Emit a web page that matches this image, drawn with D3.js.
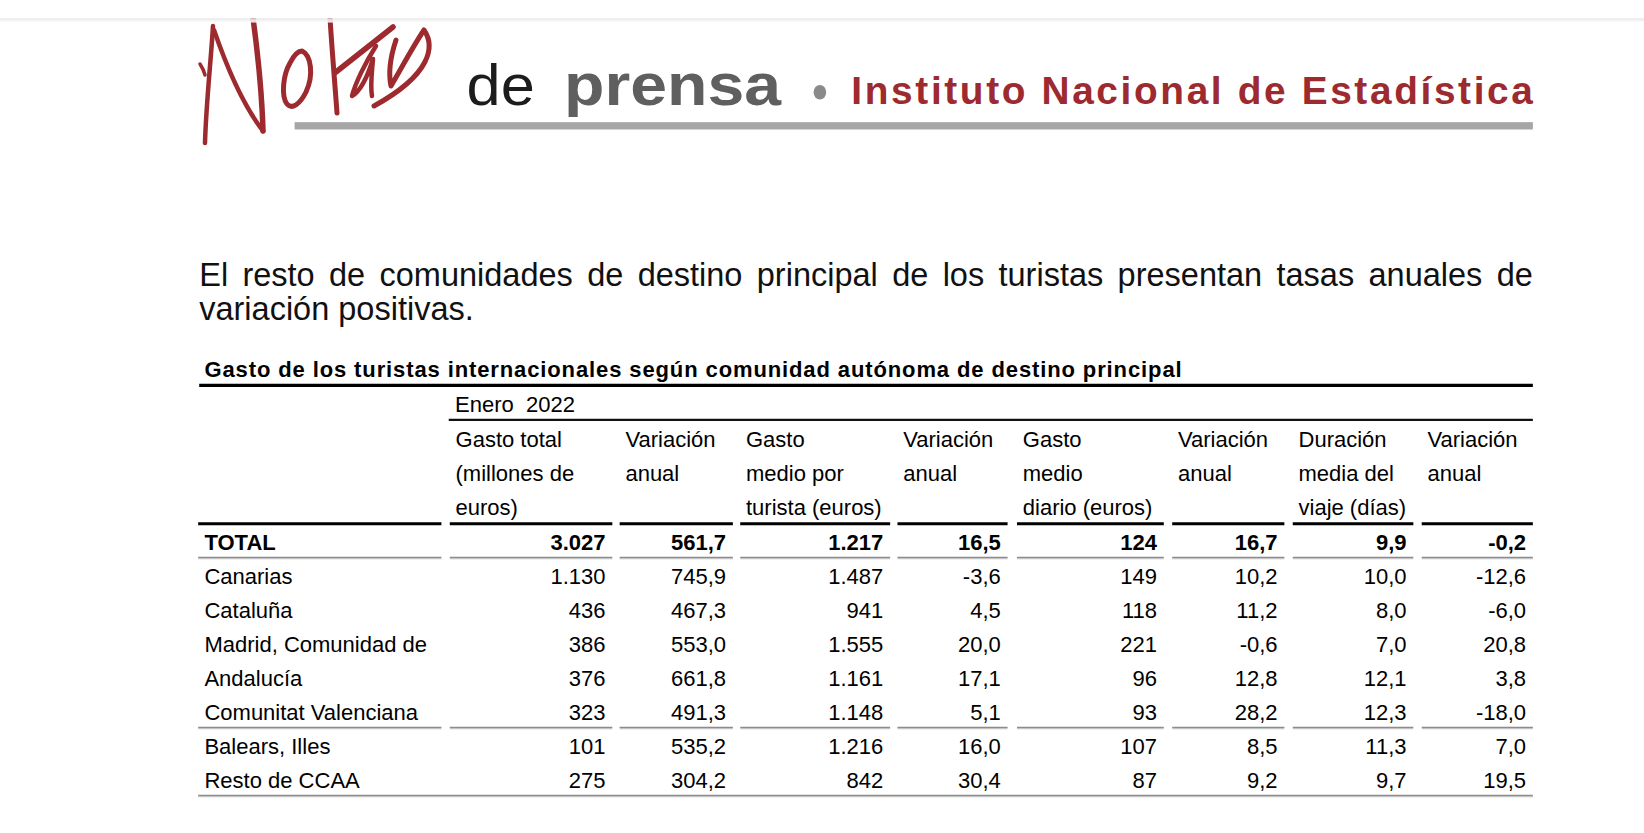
<!DOCTYPE html>
<html><head><meta charset="utf-8">
<script src="https://cdn.jsdelivr.net/npm/d3@7"></script>
<style>html,body{margin:0;padding:0;background:#fff;overflow:hidden}</style>
</head><body>
<script>
// ---------- DATA ----------
const regions = ["TOTAL","Canarias","Cataluña","Madrid, Comunidad de","Andalucía","Comunitat Valenciana","Balears, Illes","Resto de CCAA"];
const gastoTotal = [3027,1130,436,386,376,323,101,275];
const varGastoTotal = [561.7,745.9,467.3,553.0,661.8,491.3,535.2,304.2];
const gastoMedioTurista = [1217,1487,941,1555,1161,1148,1216,842];
const varGastoMedioTurista = [16.5,-3.6,4.5,20.0,17.1,5.1,16.0,30.4];
const gastoMedioDiario = [124,149,118,221,96,93,107,87];
const varGastoMedioDiario = [16.7,10.2,11.2,-0.6,12.8,28.2,8.5,9.2];
const duracionMedia = [9.9,10.0,8.0,7.0,12.1,12.3,11.3,9.7];
const varDuracion = [-0.2,-12.6,-6.0,20.8,3.8,-18.0,7.0,19.5];
const columnHeaders = [
  ["Gasto total","(millones de","euros)"],
  ["Variación","anual"],
  ["Gasto","medio por","turista (euros)"],
  ["Variación","anual"],
  ["Gasto","medio","diario (euros)"],
  ["Variación","anual"],
  ["Duración","media del","viaje (días)"],
  ["Variación","anual"]
];
const periodLabel = "Enero  2022";
const tableTitle = "Gasto de los turistas internacionales según comunidad autónoma de destino principal";
const paragraphLine1 = "El resto de comunidades de destino principal de los turistas presentan tasas anuales de";
const paragraphLine2 = "variación positivas.";

// ---------- SETUP ----------
const es = d3.formatLocale({decimal:",",thousands:".",grouping:[3],currency:["","€"],minus:"-"});
const fInt = es.format(",d"), fDec = es.format(",.1f");
const series = [
  {v:gastoTotal,f:fInt},{v:varGastoTotal,f:fDec},
  {v:gastoMedioTurista,f:fInt},{v:varGastoMedioTurista,f:fDec},
  {v:gastoMedioDiario,f:fInt},{v:varGastoMedioDiario,f:fDec},
  {v:duracionMedia,f:fDec},{v:varDuracion,f:fDec}
];
const FONT = "'Liberation Sans', Arial, Helvetica, sans-serif";
const W = 1644, H = 833, S = 1644/1568;
const svg = d3.select("body").append("svg")
  .attr("width",W).attr("height",H)
  .attr("viewBox",`0 0 1568 ${H/S}`)
  .style("display","block")
  .attr("font-family",FONT);

// top shadow
const defs = svg.append("defs");
const g1 = defs.append("linearGradient").attr("id","shadow").attr("x1",0).attr("x2",0).attr("y1",0).attr("y2",1);
g1.append("stop").attr("offset",0).attr("stop-color","#e4e4e4");
g1.append("stop").attr("offset",1).attr("stop-color","#ffffff");

// ---------- MASTHEAD ----------
const RED = "#9d2a2f";
// logo drawn in page pixel coordinates, scaled into the view
const logo = svg.append("g").attr("transform",`scale(${1/S})`)
  .attr("fill","none").attr("stroke",RED).attr("stroke-linecap","round").attr("stroke-linejoin","round");
const logoStrokes = [
  ["M213,26 C211,60 206,105 205,143",4.5],
  ["M200,64 C202,67 204,71 205,75",3.5],
  ["M214,30 C225,62 243,105 263,131",4.5],
  ["M263,131 C262,95 258,55 253,18",5.5],
  ["M302,51 C311,55 314,75 306,92 C300,104 292,110 287,104 C281,96 283,75 290,63 C294,55 298,51 302,51 Z",5],
  ["M330,18 C332,50 335,85 337,113",5],
  ["M336,72 C355,57 374,42 393,27",5.5],
  ["M376,46 C365,63 355,84 352,96 C361,91 368,75 373,59 C372,72 370,85 372,96",4.5],
  ["M396,40 C391,55 388,72 391,86 C401,69 412,48 424,30 C435,46 432,74 374,106",5]
];
logo.selectAll("path").data(logoStrokes).join("path").attr("d",d=>d[0]).attr("stroke-width",d=>d[1]);
// white band above the shadow line (page top)
svg.append("rect").attr("x",0).attr("y",0).attr("width",1568).attr("height",17.5).attr("fill","#fff");
svg.append("rect").attr("x",0).attr("y",17.5).attr("width",1568).attr("height",4).attr("fill","url(#shadow)").attr("opacity",0.9);

svg.append("text").attr("x",445).attr("y",100).attr("font-size",54).attr("fill","#1c1c1c")
  .attr("textLength",65).attr("lengthAdjust","spacingAndGlyphs").text("de");
svg.append("text").attr("x",538).attr("y",100).attr("font-size",56).attr("font-weight","bold").attr("fill","#5f5f5f")
  .attr("textLength",207).attr("lengthAdjust","spacingAndGlyphs").text("prensa");
svg.append("ellipse").attr("cx",782).attr("cy",88).attr("rx",6).attr("ry",7).attr("fill","#8a8a8a");
svg.append("text").attr("x",812).attr("y",99).attr("font-size",37).attr("font-weight","bold").attr("fill",RED)
  .attr("textLength",650).attr("lengthAdjust","spacing").text("Instituto Nacional de Estadística");
svg.append("rect").attr("x",281).attr("y",116.5).attr("width",1181).attr("height",7).attr("fill","#a6a6a6");

// ---------- PARAGRAPH (justified) ----------
const pLeft = 190, pRight = 1462;
const words = paragraphLine1.split(" ");
const wg = svg.append("g").attr("font-size",31).attr("fill","#111");
const wt = wg.selectAll("text").data(words).join("text").attr("y",273).text(d=>d);
const widths = wt.nodes().map(n=>n.getComputedTextLength());
const gap = (pRight - pLeft - d3.sum(widths))/(words.length-1);
let cx = pLeft;
wt.attr("x",(d,i)=>{const x=cx; cx += widths[i]+gap; return x;});
wg.append("text").attr("x",pLeft).attr("y",305).text(paragraphLine2);

// ---------- TABLE ----------
const T = svg.append("g").attr("font-size",21).attr("fill","#000");
T.append("text").attr("x",195).attr("y",360).attr("font-size",21).attr("font-weight","bold")
  .attr("textLength",932).attr("lengthAdjust","spacing").text(tableTitle);
T.append("line").attr("x1",190).attr("x2",1462).attr("y1",367.5).attr("y2",367.5).attr("stroke","#000").attr("stroke-width",3);

const colEdges = [[189,421],[429,584],[591,699],[706,849],[856,961],[970,1110],[1118,1225],[1233,1348],[1356,1462]];
const colIdx = d3.range(9);
const xL = d3.scaleOrdinal().domain(colIdx).range(colEdges.map(e=>e[0]));
const xR = d3.scaleOrdinal().domain(colIdx).range(colEdges.map(e=>e[1]));

T.append("text").attr("x",434).attr("y",393).style("white-space","pre").attr("xml:space","preserve").text(periodLabel);
T.append("line").attr("x1",428).attr("x2",1462).attr("y1",400.5).attr("y2",400.5).attr("stroke","#111").attr("stroke-width",2);

const yHead = d3.scalePoint().domain([0,1,2]).range([426,491]);
columnHeaders.forEach((lines,c)=>{
  T.append("g").selectAll("text").data(lines).join("text")
    .attr("x",xL(c+1)+5.5).attr("y",(d,i)=>yHead(i)).text(d=>d);
});

// thick segmented rule under header
T.append("g").selectAll("line").data(colIdx).join("line")
  .attr("x1",d=>xL(d)).attr("x2",d=>xR(d)).attr("y1",499.5).attr("y2",499.5)
  .attr("stroke","#000").attr("stroke-width",3);

const yRow = d3.scalePoint().domain(regions).range([524.5,751.5]);
const rows = T.append("g").selectAll("g").data(regions).join("g")
  .attr("font-weight",(d,i)=>i===0?"bold":"normal");
rows.append("text").attr("x",195).attr("y",d=>yRow(d)).text(d=>d);
series.forEach((s,c)=>{
  rows.append("text").attr("text-anchor","end")
    .attr("x",xR(c+1)-6.5).attr("y",d=>yRow(d))
    .text((d,i)=>s.f(s.v[i]));
});

// grey separator rules
function greyRule(y, segmented){
  const segs = segmented ? colIdx.map(d=>[xL(d),xR(d)]) : [[189,1462]];
  const g = T.append("g");
  g.selectAll("line.a").data(segs).join("line").attr("class","a")
    .attr("x1",d=>d[0]).attr("x2",d=>d[1]).attr("y1",y).attr("y2",y)
    .attr("stroke","#8c8c8c").attr("stroke-width",1.2);
  g.selectAll("line.b").data(segs).join("line").attr("class","b")
    .attr("x1",d=>d[0]).attr("x2",d=>d[1]).attr("y1",y+1.3).attr("y2",y+1.3)
    .attr("stroke","#c4c4c4").attr("stroke-width",1.2);
}
greyRule(yRow(regions[0])+7, true);
greyRule(yRow(regions[5])+7, true);
greyRule(yRow(regions[7])+7, false);
</script>
</body></html>
